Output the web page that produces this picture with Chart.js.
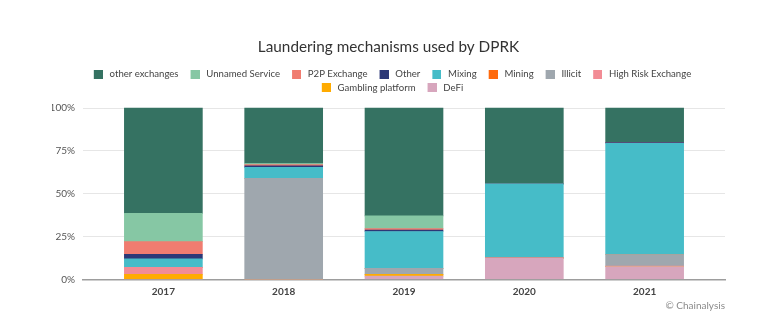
<!DOCTYPE html>
<html>
<head>
<meta charset="utf-8">
<script src="https://cdn.jsdelivr.net/npm/chart.js@4/dist/chart.umd.min.js"></script>
<style>
  html, body { margin: 0; padding: 0; background: #ffffff; }
  #wrap { position: relative; width: 773px; height: 328px; }
</style>
</head>
<body>
<div id="wrap"><canvas id="c" width="773" height="328"></canvas></div>
<script>
// ---- data (% of funds per year) ----
const years = ['2017', '2018', '2019', '2020', '2021'];
const yTicks = [0, 25, 50, 75, 100];

const otherExchanges   = [61.5, 32.4, 63.0, 44.3, 20.2];
const unnamedService   = [16.5,  0.7,  7.4,  0.0,  0.0];
const p2pExchange      = [ 7.4,  0.7,  0.8,  0.0,  0.0];
const other            = [ 2.7,  0.9,  0.9,  0.0,  0.4];
const mixing           = [ 4.9,  6.3, 21.5, 43.2, 64.9];
const mining           = [ 0.0,  0.0,  0.0,  0.0,  0.0];
const illicit          = [ 0.0, 59.0,  3.5,  0.0,  6.8];
const highRiskExchange = [ 4.1,  0.0,  0.0,  0.3,  0.3];
const gamblingPlatform = [ 2.9,  0.0,  1.0,  0.0,  0.0];
const defi             = [ 0.0,  0.0,  1.9, 12.2,  7.4];

// legend order (top of stack first)
const series = [
  { name: 'other exchanges',    values: otherExchanges,   color: '#357262' },
  { name: 'Unnamed Service',    values: unnamedService,   color: '#86c7a4' },
  { name: 'P2P Exchange',       values: p2pExchange,      color: '#f07c70' },
  { name: 'Other',              values: other,            color: '#2c3877' },
  { name: 'Mixing',             values: mixing,           color: '#46bcc8' },
  { name: 'Mining',             values: mining,           color: '#ff6a0d' },
  { name: 'Illicit',            values: illicit,          color: '#9fa7ae' },
  { name: 'High Risk Exchange', values: highRiskExchange, color: '#f28c95' },
  { name: 'Gambling platform',  values: gamblingPlatform, color: '#ffab00' },
  { name: 'DeFi',               values: defi,             color: '#d7a6bd' }
];

// legend swatch: 9x9 square drawn on the right of a 15x9 transparent canvas
function swatch(color) {
  const c = document.createElement('canvas');
  c.width = 15; c.height = 9;
  const g = c.getContext('2d');
  g.fillStyle = color;
  g.fillRect(6, 0, 9, 9);
  return c;
}

// stack bottom-up: datasets reversed, legend reversed back
const stackOrder = series.slice().reverse();
const datasets = stackOrder.map(s => ({
  label: s.name,
  data: s.values,
  backgroundColor: s.color,
  borderWidth: 0,
  barThickness: 78,
  legendSwatch: swatch(s.color)
}));

const FONT = 'Lato, "Noto Sans", sans-serif';

const creditPlugin = {
  id: 'credit',
  afterDraw(chart) {
    const ctx = chart.ctx;
    ctx.save();
    ctx.font = '10px ' + FONT;
    ctx.fillStyle = '#8a8a8a';
    ctx.textAlign = 'right';
    ctx.textBaseline = 'middle';
    ctx.fillText('© Chainalysis', chart.chartArea.right, 306);
    ctx.restore();
  }
};

new Chart(document.getElementById('c'), {
  type: 'bar',
  data: { labels: years, datasets: datasets },
  plugins: [creditPlugin],
  options: {
    responsive: false,
    animation: false,
    devicePixelRatio: 1,
    layout: { padding: { top: 37.8, left: 52, right: 48, bottom: 26.7 } },
    plugins: {
      tooltip: { enabled: false },
      title: {
        display: true,
        text: 'Laundering mechanisms used by DPRK',
        color: '#333333',
        font: { family: FONT, size: 15.3, weight: 'normal' },
        padding: { top: 0, bottom: 9.04 }
      },
      legend: {
        display: true,
        position: 'top',
        reverse: true,
        labels: {
          usePointStyle: true,
          pointStyleWidth: 19,
          boxHeight: 10,
          padding: 4,
          color: '#444444',
          font: { family: FONT, size: 9.6 },
          generateLabels(chart) {
            const items = Chart.defaults.plugins.legend.labels.generateLabels(chart);
            items.forEach(it => { it.pointStyle = chart.data.datasets[it.datasetIndex].legendSwatch; });
            return items;
          }
        }
      }
    },
    scales: {
      x: {
        type: 'linear',
        stacked: true,
        offset: false,
        min: 2016.332,
        max: 2021.668,
        z: 1,
        afterBuildTicks(s) { s.ticks = years.map(y => ({ value: +y })); },
        afterFit(s) { s.height = 22; },
        grid: { display: false, drawTicks: false, offset: false },
        border: { display: true, color: '#9d9d9d', width: 1.5 },
        ticks: {
          autoSkip: false, maxRotation: 0, padding: 6,
          color: '#444444',
          font: { family: FONT, size: 10, weight: 'bold' },
          callback: (v, i) => years[i]
        }
      },
      y: {
        stacked: true,
        min: 0,
        max: 103.27,
        afterBuildTicks(s) { s.ticks = yTicks.map(v => ({ value: v })); },
        afterFit(s) { s.width = 31; },
        grid: { color: '#e6e6e6', lineWidth: 1, drawTicks: false },
        border: { display: false },
        ticks: {
          padding: 8,
          color: '#555555',
          font: { family: FONT, size: 10 },
          callback: v => v + '%'
        }
      }
    }
  }
});
</script>
</body>
</html>
